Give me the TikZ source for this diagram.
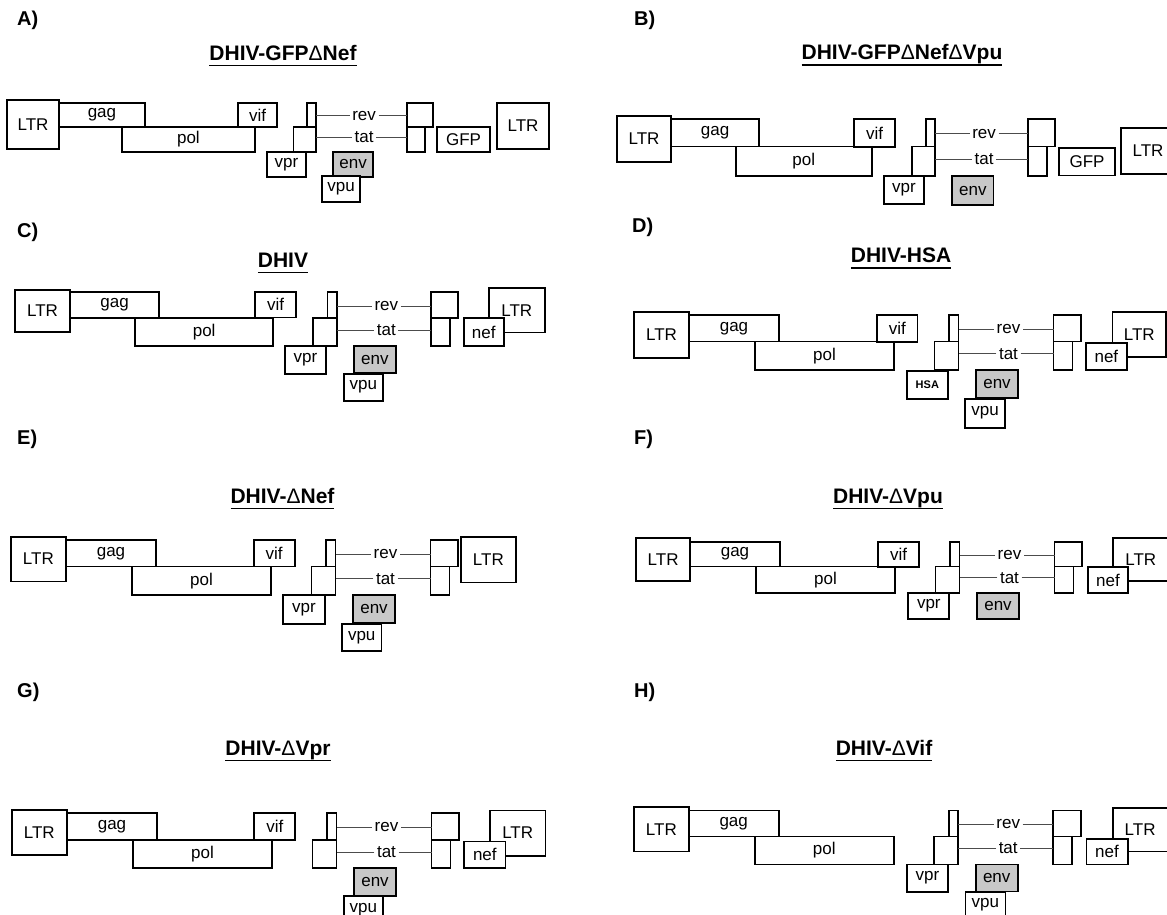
\documentclass[tikz,border=0pt]{standalone}
\usepackage{fontspec}
\setmainfont{Liberation Sans}
\usepackage{tikz}
\definecolor{envgray}{HTML}{C8C8C8}
\newcommand{\titleul}[1]{\setbox0=\hbox{#1}\rlap{\rule[-6.3pt]{\wd0}{1.8pt}}\box0}

\begin{document}
\begin{tikzpicture}[
    x=1pt, y=-1pt,
    gene/.style={draw, line width=1.8pt, fill=white, inner sep=0pt, outer sep=0pt,
                 anchor=north west, font=\fontsize{17}{20}\selectfont},
    orf/.style={inner sep=2.5pt, font=\fontsize{17}{20}\selectfont},
    link/.style={line width=0.8pt, black!70},
    title/.style={anchor=base, inner sep=0pt, font=\fontsize{21}{25}\bfseries},
    panel/.style={anchor=base west, inner sep=0pt, font=\fontsize{20}{24}\bfseries},
]
\path[use as bounding box, fill=white] (0,0) rectangle (1167,914);

% ── Panel letters and construct names ──
\node[panel] (lblA) at (17,25) {A)};
\node[panel] (lblB) at (634,25) {B)};
\node[panel] (lblC) at (17,237) {C)};
\node[panel] (lblD) at (632,232) {D)};
\node[panel] (lblE) at (17,444) {E)};
\node[panel] (lblF) at (634,444) {F)};
\node[panel] (lblG) at (17,697) {G)};
\node[panel] (lblH) at (634,697) {H)};

\node[title] (A-title) at (283,60) {\titleul{DHIV-GFP{\mdseries Δ}Nef}};
\node[title] (B-title) at (902,59.5) {\titleul{DHIV-GFP{\mdseries Δ}Nef{\mdseries Δ}Vpu}};
\node[title] (C-title) at (283,267) {\titleul{DHIV}};
\node[title] (D-title) at (901,262.5) {\titleul{DHIV-HSA}};
\node[title] (E-title) at (282.5,503) {\titleul{DHIV-{\mdseries Δ}Nef}};
\node[title] (F-title) at (888,503) {\titleul{DHIV-{\mdseries Δ}Vpu}};
\node[title] (G-title) at (278,755) {\titleul{DHIV-{\mdseries Δ}Vpr}};
\node[title] (H-title) at (884,755) {\titleul{DHIV-{\mdseries Δ}Vif}};

% ── 5' LTRs ──
\node[gene, minimum width=52, minimum height=49] (A-ltr5) at (7,100) {LTR};
\node[gene, minimum width=54, minimum height=46] (B-ltr5) at (617,116) {LTR};
\node[gene, minimum width=55, minimum height=42] (C-ltr5) at (15,290) {LTR};
\node[gene, minimum width=55, minimum height=46] (D-ltr5) at (634,311.8) {LTR};
\node[gene, minimum width=55.3, minimum height=44.6] (E-ltr5) at (10.7,536.8) {LTR};
\node[gene, minimum width=54.3, minimum height=42.7] (F-ltr5) at (636,538.3) {LTR};
\node[gene, minimum width=55, minimum height=45.4] (G-ltr5) at (11.8,809.6) {LTR};
\node[gene, minimum width=54.7, minimum height=44.6] (H-ltr5) at (634,806.9) {LTR};

% ── genes shared by every construct ──
\foreach \p/\gx/\gy/\sx/\sy in {A/59/103/0.955/0.91, B/671/119/0.98/1.06,
    C/70/292/0.99/1.0, D/689/315/1.0/1.02, E/66/540/1.0/1.02,
    F/690/541.7/1.0/0.95, G/67/813.2/1.0/1.02, H/688.7/810.4/1.0/1.0} {
  \node[gene, minimum width=\sx*90, minimum height=\sy*26]
      (\p-gag) at (\gx,\gy) {gag};
  \node[gene, minimum width=\sx*139, minimum height=\sy*28]
      (\p-pol) at ({\gx+\sx*66},{\gy+\sy*26}) {pol};
  \node[gene, minimum width=\sx*9.5, minimum height=\sy*26]
      (\p-revL) at ({\gx+\sx*260},\gy) {};
  \node[gene, minimum width=\sx*24, minimum height=\sy*28]
      (\p-tatL) at ({\gx+\sx*245.5},{\gy+\sy*26}) {};
  \node[gene, fill=envgray, minimum width=\sx*42, minimum height=\sy*27]
      (\p-env) at ({\gx+\sx*287},{\gy+\sy*54}) {env};
  \node[gene, minimum width=\sx*27.5, minimum height=\sy*26]
      (\p-revR) at ({\gx+\sx*364.5},\gy) {};
  \node[gene, minimum width=\sx*19, minimum height=\sy*28]
      (\p-tatR) at ({\gx+\sx*364.5},{\gy+\sy*26}) {};
  \node[orf] (\p-rev) at ({\gx+\sx*319.5},{\gy+\sy*14}) {rev};
  \node[orf] (\p-tat) at ({\gx+\sx*319.5},{\gy+\sy*38}) {tat};
  \draw[link] (\p-rev.west) -- (\p-revL.east |- \p-rev.west);
  \draw[link] (\p-rev.east) -- (\p-revR.west |- \p-rev.east);
  \draw[link] (\p-tat.west) -- (\p-tatL.east |- \p-tat.west);
  \draw[link] (\p-tat.east) -- (\p-tatR.west |- \p-tat.east);
}

% ── vif ──
\node[gene, minimum width=39, minimum height=24] (A-vif) at (238,103) {vif};
\node[gene, minimum width=41, minimum height=28] (B-vif) at (854,119) {vif};
\node[gene, minimum width=41, minimum height=25.5] (C-vif) at (255,292) {vif};
\node[gene, minimum width=40.5, minimum height=27] (D-vif) at (877,315) {vif};
\node[gene, minimum width=41, minimum height=26.4] (E-vif) at (253.6,540) {vif};
\node[gene, minimum width=40.7, minimum height=25] (F-vif) at (878.3,541.7) {vif};
\node[gene, minimum width=41, minimum height=26.8] (G-vif) at (254.3,813.2) {vif};

% ── vpr / HSA ──
\node[gene, minimum width=39, minimum height=25] (A-vpr) at (267,152) {vpr};
\node[gene, minimum width=40, minimum height=28] (B-vpr) at (884,176) {vpr};
\node[gene, minimum width=41, minimum height=27.6] (C-vpr) at (285,346) {vpr};
\node[gene, minimum width=41.3, minimum height=27.6,
      font=\fontsize{11}{13}\bfseries] (D-hsa) at (906.7,371) {HSA};
\node[gene, minimum width=42, minimum height=28.6] (E-vpr) at (283,595) {vpr};
\node[gene, minimum width=41, minimum height=26.6] (F-vpr) at (908.3,592.7) {vpr};
\node[gene, minimum width=41, minimum height=27.2] (H-vpr) at (907,864.4) {vpr};

% ── vpu ──
\node[gene, minimum width=38, minimum height=26] (A-vpu) at (322,176) {vpu};
\node[gene, minimum width=39.4, minimum height=27] (C-vpu) at (343.6,373.6) {vpu};
\node[gene, minimum width=40, minimum height=29] (D-vpu) at (965,398.6) {vpu};
\node[gene, minimum width=39.4, minimum height=27.4] (E-vpu) at (342,623.6) {vpu};
\node[gene, minimum width=39.3, minimum height=27] (G-vpu) at (343.6,896) {vpu};
\node[gene, minimum width=40, minimum height=27] (H-vpu) at (965.4,891.6) {vpu};

% ── GFP ──
\node[gene, minimum width=53, minimum height=25] (A-gfp) at (437,127) {GFP};
\node[gene, minimum width=56, minimum height=27.5] (B-gfp) at (1059,148) {GFP};

% ── 3' LTRs, nef on top ──
\node[gene, minimum width=52, minimum height=46] (A-ltr3) at (497,103) {LTR};
\node[gene, minimum width=54, minimum height=46] (B-ltr3) at (1121,128) {LTR};
\node[gene, minimum width=55.6, minimum height=44.5] (C-ltr3) at (489,288) {LTR};
\node[gene, minimum width=53.5, minimum height=45.2] (D-ltr3) at (1112.5,311.8) {LTR};
\node[gene, minimum width=55.3, minimum height=45.7] (E-ltr3) at (460.7,536.8) {LTR};
\node[gene, minimum width=55, minimum height=42.7] (F-ltr3) at (1113.3,538.3) {LTR};
\node[gene, minimum width=55.4, minimum height=45.3] (G-ltr3) at (490,810.4) {LTR};
\node[gene, minimum width=55, minimum height=43.5] (H-ltr3) at (1112.6,808) {LTR};

\node[gene, minimum width=40.4, minimum height=28] (C-nef) at (463.6,318) {nef};
\node[gene, minimum width=41.3, minimum height=27] (D-nef) at (1085.7,343.3) {nef};
\node[gene, minimum width=40.6, minimum height=26] (F-nef) at (1087.7,567.3) {nef};
\node[gene, minimum width=41.1, minimum height=26.8] (G-nef) at (464.3,841.4) {nef};
\node[gene, minimum width=41.2, minimum height=25.8] (H-nef) at (1086.4,838.6) {nef};
\end{tikzpicture}
\end{document}
